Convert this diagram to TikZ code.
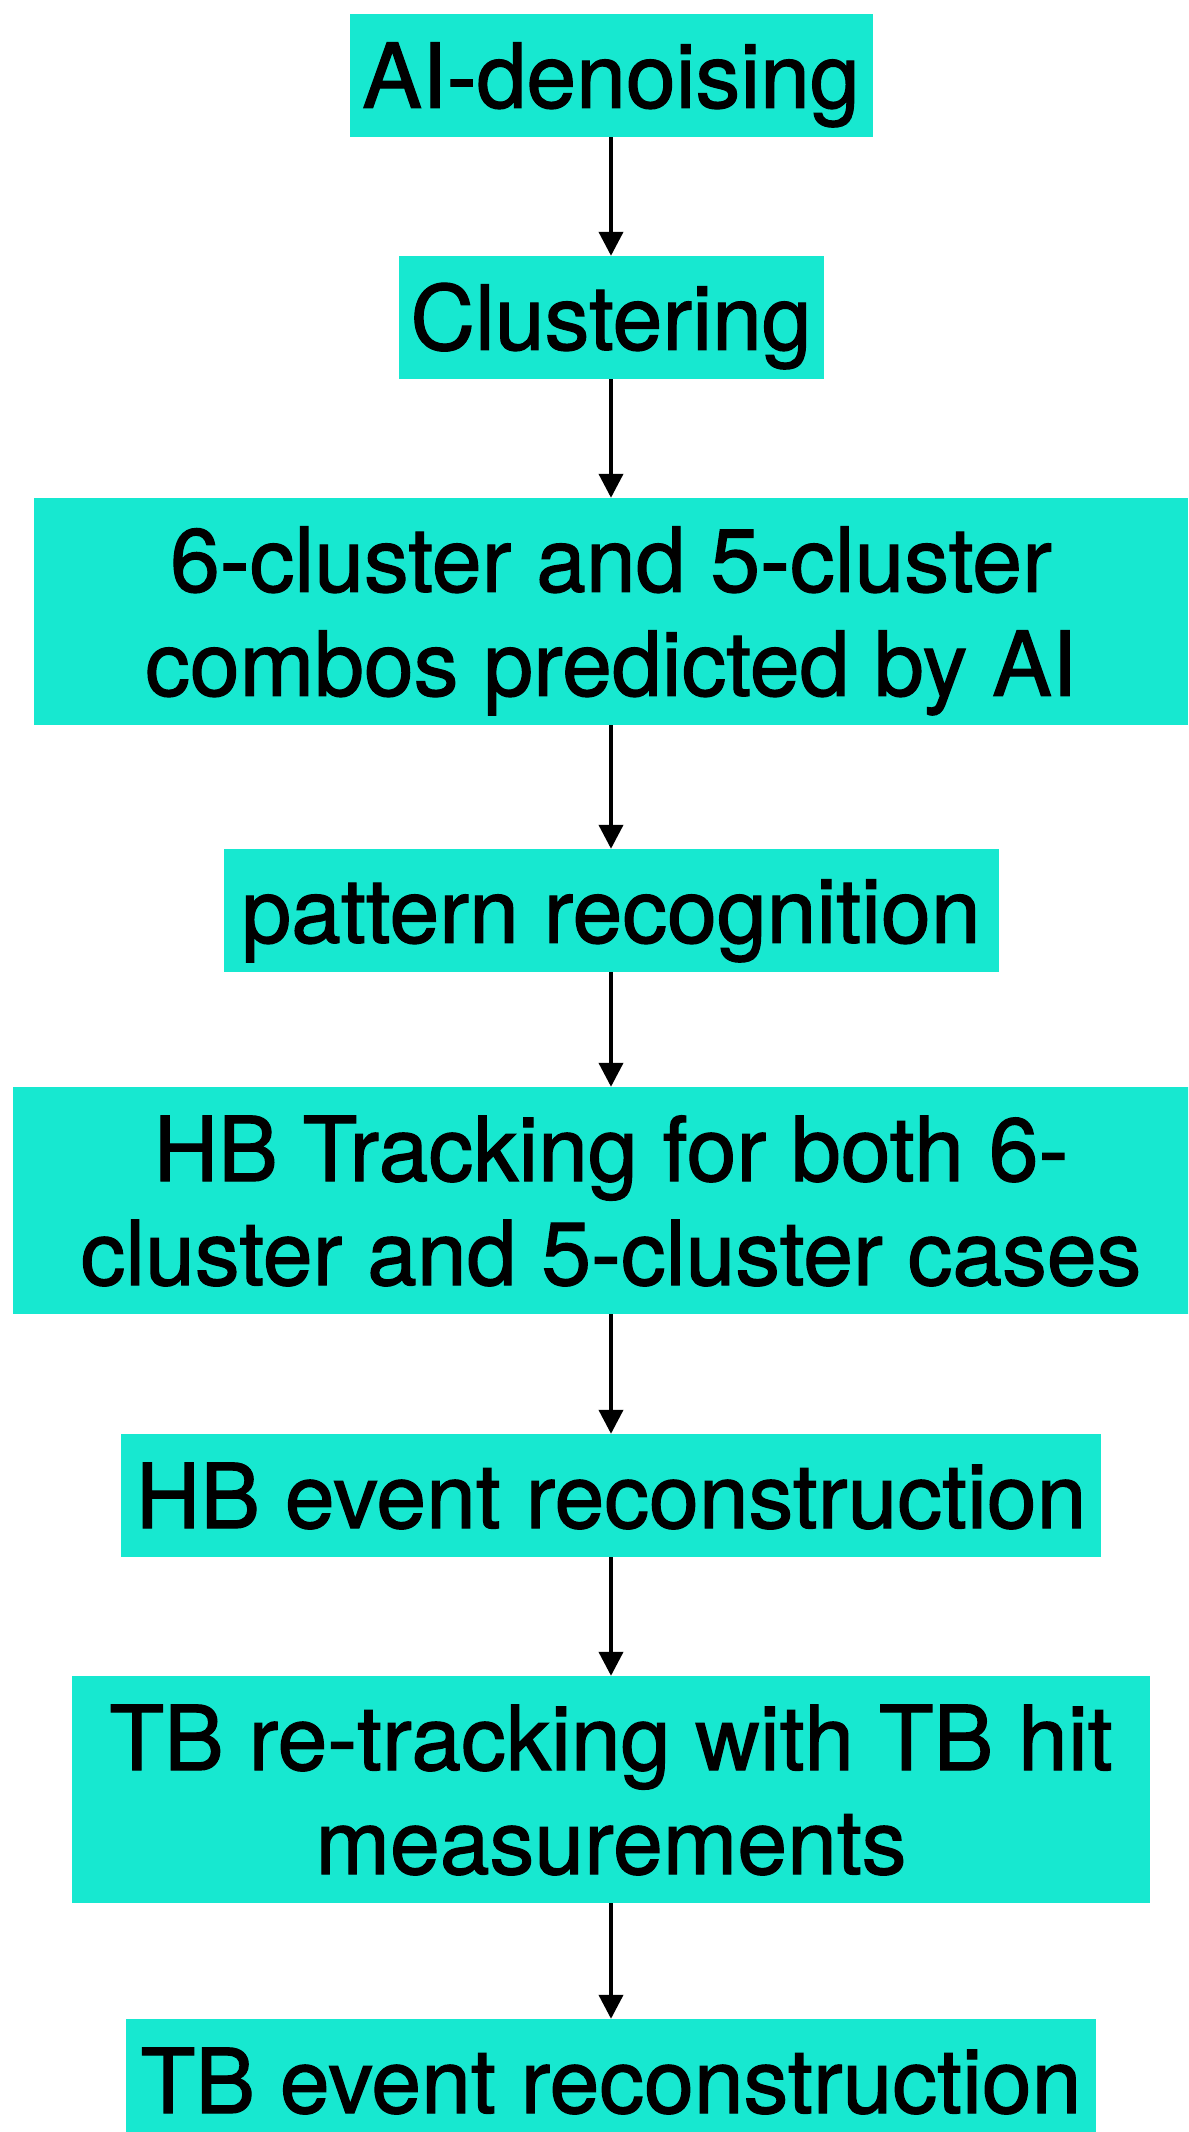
\documentclass[tikz,border=0pt]{standalone}
\usepackage{fontspec}
\setmainfont{TeX Gyre Heros}[FakeBold=1.3]
\usetikzlibrary{arrows.meta}
\definecolor{boxcol}{RGB}{23,232,208}
\newcommand{\stz}{\rule[-19pt]{0pt}{103pt}}
\tikzset{
  stepbox/.style={rectangle, fill=boxcol, inner sep=0pt, align=center,
    font=\fontsize{89.5}{104}\selectfont, text=black},
  onebox/.style={stepbox, minimum height=123pt},
  twobox/.style={stepbox, minimum height=227pt},
  arr/.style={line width=4pt, -{Triangle[width=24pt,length=24pt]}}
}
\begin{document}
\begin{tikzpicture}[x=1pt,y=-1pt]
\clip (0,0) rectangle (1188,2132);
\fill[white] (0,0) rectangle (1188,2132);
\node[onebox, minimum width=523pt] (n1) at (611,75.5) {\stz AI-denoising};
\node[onebox, minimum width=425pt] (n2) at (611,317.5) {\stz Clustering};
\node[twobox, minimum width=1154pt] (n3) at (611,611.5) {\stz 6-cluster and 5-cluster\\ \stz combos predicted by AI};
\node[onebox, minimum width=775pt] (n4) at (611,910.5) {\stz pattern recognition};
\node[twobox, minimum width=1196pt] (n5) at (611,1200.5) {\stz HB Tracking for both 6-\\ \stz cluster and 5-cluster cases};
\node[onebox, minimum width=980pt] (n6) at (611,1495.5) {\stz HB event reconstruction};
\node[twobox, minimum width=1078pt] (n7) at (611,1789.5) {\stz TB re-tracking with TB hit\\ \stz measurements};
\node[onebox, minimum width=970pt] (n8) at (611,2080.5) {\stz TB event reconstruction};
\draw[arr] (n1.south) -- (n2.north);
\draw[arr] (n2.south) -- (n3.north);
\draw[arr] (n3.south) -- (n4.north);
\draw[arr] (n4.south) -- (n5.north);
\draw[arr] (n5.south) -- (n6.north);
\draw[arr] (n6.south) -- (n7.north);
\draw[arr] (n7.south) -- (n8.north);
\end{tikzpicture}
\end{document}
